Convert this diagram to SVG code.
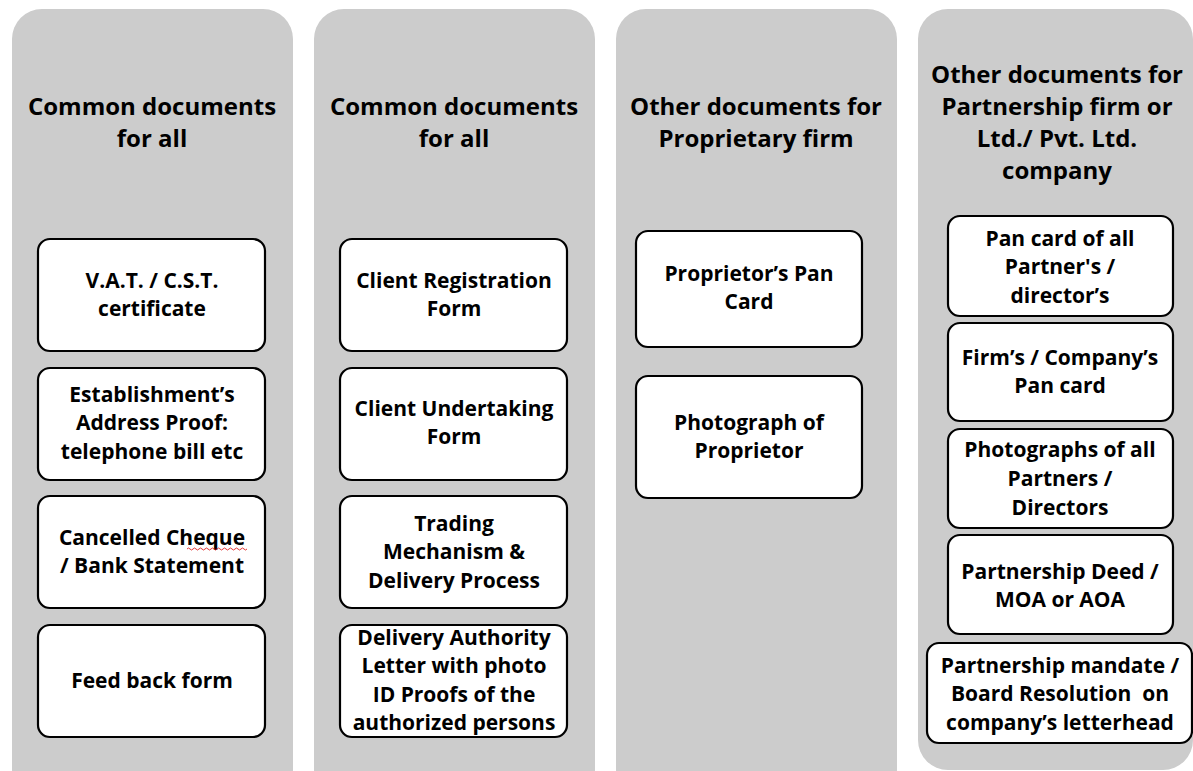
<svg xmlns="http://www.w3.org/2000/svg" width="1193" height="771" viewBox="0 0 1193 771">
<style>
.col{fill:#cccccc;}
.box{fill:#ffffff;stroke:#000000;stroke-width:2.2;}
.h{font-family:"Open Sans","Liberation Sans",sans-serif;font-weight:bold;font-size:24px;fill:#000;text-anchor:middle;}
.t{font-family:"Open Sans","Liberation Sans",sans-serif;font-weight:bold;font-size:21px;fill:#000;text-anchor:middle;}
</style>
<rect width="1193" height="771" fill="#ffffff"/>
<g id="col1">
<rect class="col" x="12" y="9" width="281" height="790" rx="30"/>
<text class="h" x="152" y="115">Common documents</text>
<text class="h" x="152" y="147">for all</text>
</g>
<g id="col2">
<rect class="col" x="314" y="9" width="281" height="790" rx="30"/>
<text class="h" x="454" y="115">Common documents</text>
<text class="h" x="454" y="147">for all</text>
</g>
<g id="col3">
<rect class="col" x="616" y="9" width="281" height="790" rx="30"/>
<text class="h" x="756" y="115">Other documents for</text>
<text class="h" x="756" y="147">Proprietary firm</text>
</g>
<g id="col4">
<rect class="col" x="918" y="9" width="275" height="761" rx="30"/>
<text class="h" x="1057" y="83">Other documents for</text>
<text class="h" x="1057" y="115">Partnership firm or</text>
<text class="h" x="1057" y="147">Ltd./ Pvt. Ltd.</text>
<text class="h" x="1057" y="179">company</text>
</g>
<g id="c1b1"><rect class="box" x="38" y="239" width="227" height="112" rx="12"/>
<text class="t" x="152" y="288">V.A.T. / C.S.T.</text><text class="t" x="152" y="316">certificate</text></g>
<g id="c1b2"><rect class="box" x="38" y="368" width="227" height="112" rx="12"/>
<text class="t" x="152" y="402">Establishment’s</text><text class="t" x="152" y="430">Address Proof:</text><text class="t" x="152" y="459">telephone bill etc</text></g>
<g id="c1b3"><rect class="box" x="38" y="496" width="227" height="112" rx="12"/>
<text class="t" x="152" y="545">Cancelled Cheque</text><text class="t" x="152" y="573">/ Bank Statement</text>
<path d="M187 549 q1.5 -2 3 0 t3 0 t3 0 t3 0 t3 0 t3 0 t3 0 t3 0 t3 0 t3 0 t3 0 t3 0 t3 0 t3 0 t3 0 t3 0 t3 0 t3 0 t3 0 t3 0" fill="none" stroke="#e02020" stroke-width="0.9"/></g>
<g id="c1b4"><rect class="box" x="38" y="625" width="227" height="112" rx="12"/>
<text class="t" x="152" y="688">Feed back form</text></g>
<g id="c2b1"><rect class="box" x="340" y="239" width="227" height="112" rx="12"/>
<text class="t" x="454" y="288">Client Registration</text><text class="t" x="454" y="316">Form</text></g>
<g id="c2b2"><rect class="box" x="340" y="368" width="227" height="112" rx="12"/>
<text class="t" x="454" y="416">Client Undertaking</text><text class="t" x="454" y="444">Form</text></g>
<g id="c2b3"><rect class="box" x="340" y="496" width="227" height="112" rx="12"/>
<text class="t" x="454" y="531">Trading</text><text class="t" x="454" y="559">Mechanism &amp;</text><text class="t" x="454" y="588">Delivery Process</text></g>
<g id="c2b4"><rect class="box" x="340" y="625" width="227" height="112" rx="12"/>
<text class="t" x="454" y="645">Delivery Authority</text><text class="t" x="454" y="673">Letter with photo</text><text class="t" x="454" y="702">ID Proofs of the</text><text class="t" x="454" y="730">authorized persons</text></g>
<g id="c3b1"><rect class="box" x="636" y="231" width="226" height="116" rx="12"/>
<text class="t" x="749" y="281">Proprietor’s Pan</text><text class="t" x="749" y="309">Card</text></g>
<g id="c3b2"><rect class="box" x="636" y="376" width="226" height="122" rx="12"/>
<text class="t" x="749" y="430">Photograph of</text><text class="t" x="749" y="458">Proprietor</text></g>
<g id="c4b1"><rect class="box" x="948" y="216" width="225" height="100" rx="12"/>
<text class="t" x="1060" y="246">Pan card of all</text><text class="t" x="1060" y="274">Partner's /</text><text class="t" x="1060" y="303">director’s</text></g>
<g id="c4b2"><rect class="box" x="948" y="323" width="225" height="98" rx="12"/>
<text class="t" x="1060" y="365">Firm’s / Company’s</text><text class="t" x="1060" y="393">Pan card</text></g>
<g id="c4b3"><rect class="box" x="948" y="429" width="225" height="99" rx="12"/>
<text class="t" x="1060" y="457">Photographs of all</text><text class="t" x="1060" y="486">Partners /</text><text class="t" x="1060" y="515">Directors</text></g>
<g id="c4b4"><rect class="box" x="948" y="535" width="225" height="99" rx="12"/>
<text class="t" x="1060" y="579">Partnership Deed /</text><text class="t" x="1060" y="607">MOA or AOA</text></g>
<g id="c4b5"><rect class="box" x="927" y="643" width="265" height="100" rx="12"/>
<text class="t" x="1060" y="673">Partnership mandate /</text><text class="t" x="1060" y="701">Board Resolution &#160;on</text><text class="t" x="1060" y="730">company’s letterhead</text></g>
<g id="connectors"></g>
</svg>
